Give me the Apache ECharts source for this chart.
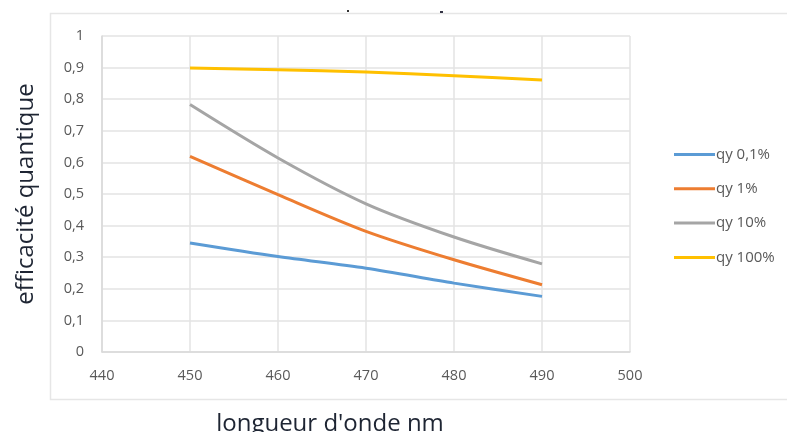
<!DOCTYPE html>
<html>
<head>
<meta charset="utf-8">
<script src="https://cdn.jsdelivr.net/npm/echarts@6/dist/echarts.min.js"></script>
<style>
  html, body { margin: 0; padding: 0; background: #fff; }
  #chart { width: 787px; height: 432px; }
</style>
</head>
<body>
<div id="chart"></div>
<script>
// longueurs d'onde (nm)
const wavelengths = [450, 460, 470, 480, 490]

// efficacité quantique
const qy01 = [0.345, 0.302, 0.265, 0.218, 0.176]
const qy1 = [0.619, 0.498, 0.382, 0.292, 0.213]
const qy10 = [0.783, 0.614, 0.469, 0.364, 0.279]
const qy100 = [0.899, 0.893, 0.886, 0.874, 0.861]

const seriesNames = ['qy 0,1%', 'qy 1%', 'qy 10%', 'qy 100%']
const seriesColors = ['#5B9BD5', '#ED7D31', '#A5A5A5', '#FFC000']

const xTicks = { min: 440, max: 500, interval: 10 }
const yTicks = { min: 0, max: 1, interval: 0.1 }

function pairs(values) {
  return wavelengths.map((w, i) => [w, values[i]])
}

const chart = echarts.init(document.getElementById('chart'), null, { renderer: 'canvas' })

const allValues = [qy01, qy1, qy10, qy100]

const option = {
  animation: false,
  backgroundColor: '#fff',
  textStyle: { fontFamily: 'Open Sans, Noto Sans, sans-serif' },
  grid: { left: 102, right: 157, top: 36, bottom: 80, containLabel: false, outerBoundsMode: 'none' },
  legend: {
    orient: 'vertical',
    left: 674,
    top: 147,
    padding: 0,
    itemGap: 19.3,
    itemWidth: 41,
    itemHeight: 3,
    icon: 'rect',
    textStyle: { color: '#595959', fontSize: 15, padding: [0, 0, 0, -4] },
    data: seriesNames
  },
  xAxis: {
    type: 'value',
    min: xTicks.min,
    max: xTicks.max,
    interval: xTicks.interval,
    axisLine: { show: true, lineStyle: { color: '#d9d9d9', width: 1.5 } },
    axisTick: { show: false },
    axisLabel: { color: '#595959', fontSize: 14.5, margin: 16 },
    splitLine: { show: true, lineStyle: { color: '#e3e3e3', width: 1.5 } },
    name: "longueur d'onde nm",
    nameLocation: 'middle',
    nameGap: 60,
    nameTextStyle: {
      color: '#1e2533',
      fontSize: 24,
      fontFamily: 'Open Sans, sans-serif',
      padding: [0, 72, 0, 0]
    }
  },
  yAxis: {
    type: 'value',
    min: yTicks.min,
    max: yTicks.max,
    interval: yTicks.interval,
    axisLine: { show: true, lineStyle: { color: '#d9d9d9', width: 1.5 } },
    axisTick: { show: false },
    axisLabel: {
      color: '#595959',
      fontSize: 14.5,
      margin: 18,
      formatter: v => String(Math.round(v * 10) / 10).replace('.', ',')
    },
    splitLine: { show: true, lineStyle: { color: '#e3e3e3', width: 1.5 } },
    name: 'efficacité quantique',
    nameLocation: 'middle',
    nameRotate: 90,
    nameGap: 64,
    nameTextStyle: { color: '#1e2533', fontSize: 24, fontFamily: 'Open Sans, sans-serif' }
  },
  graphic: [
    {
      type: 'rect',
      silent: true,
      shape: { x: 50.5, y: 13.5, width: 760, height: 386 },
      style: { fill: 'none', stroke: '#e6e6e6', lineWidth: 1.5 },
      z: -1
    },
    { type: 'rect', shape: { x: 347, y: 10, width: 2, height: 2 }, style: { fill: '#333' } },
    { type: 'rect', shape: { x: 440, y: 11, width: 3, height: 2 }, style: { fill: '#334' } }
  ],
  series: seriesNames.map((name, i) => ({
    name: name,
    type: 'line',
    smooth: 0.3,
    showSymbol: false,
    symbol: 'none',
    data: pairs(allValues[i]),
    lineStyle: { color: seriesColors[i], width: 3 },
    itemStyle: { color: seriesColors[i] }
  }))
}

chart.setOption(option)
</script>
</body>
</html>
